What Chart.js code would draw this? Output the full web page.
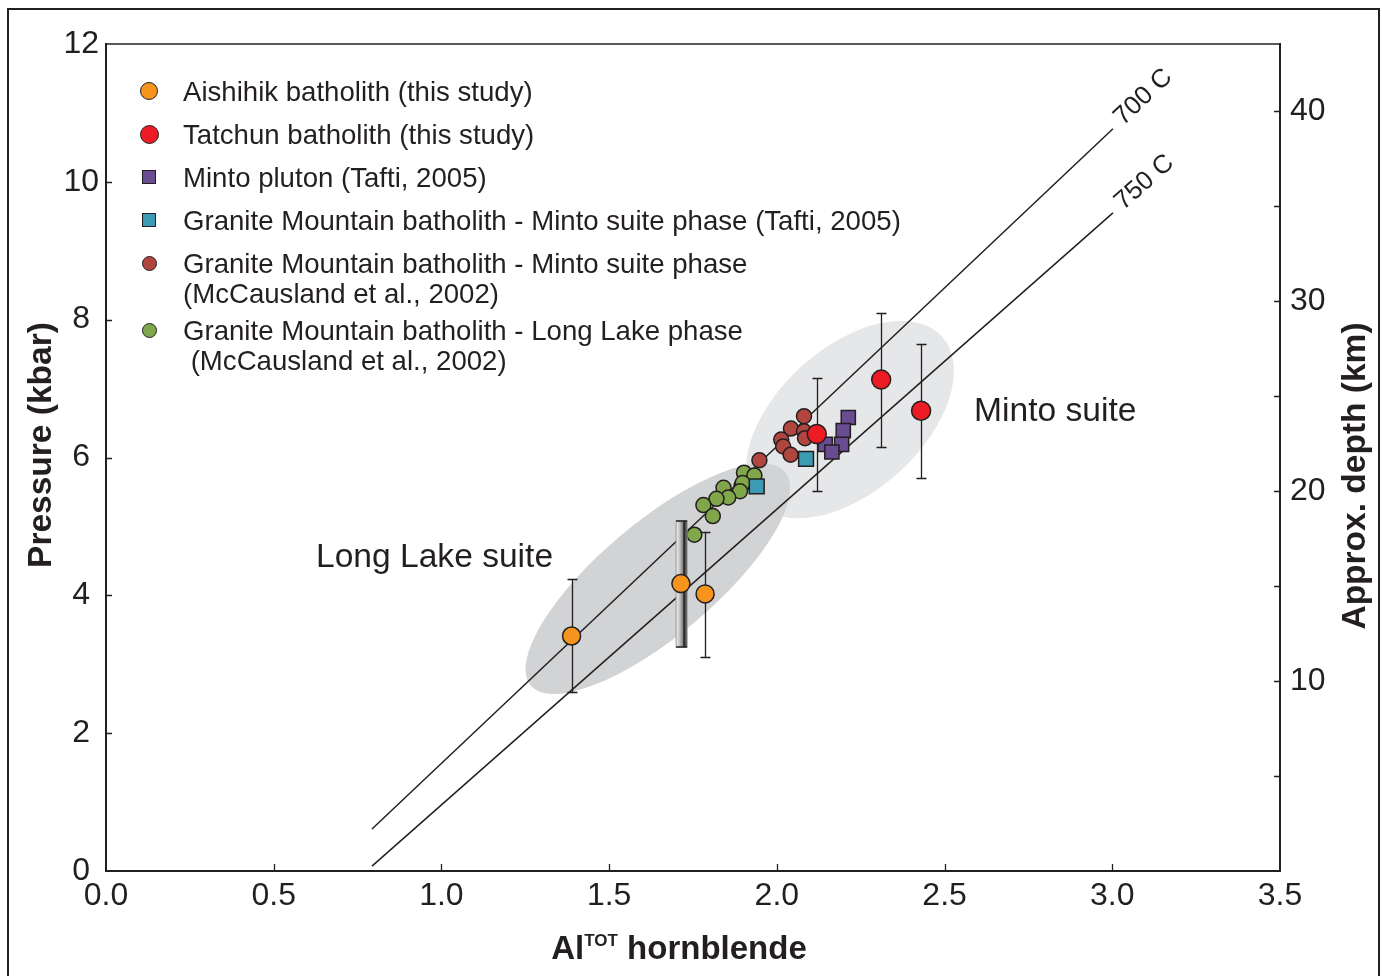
<!DOCTYPE html>
<html>
<head>
<meta charset="utf-8">
<title>Al-in-hornblende barometry</title>
<script src="https://cdn.jsdelivr.net/npm/chart.js@4.4.1/dist/chart.umd.min.js"></script>
<style>
  html, body { margin: 0; padding: 0; background: #fff; }
  #wrap { position: relative; width: 1382px; height: 976px; overflow: hidden;
          font-family: 'Liberation Sans', Arial, sans-serif; color: #231f20; }
  #frame { position: absolute; left: 7px; top: 8px; width: 1373px; height: 1000px;
           border: 2.5px solid #231f20; box-sizing: border-box; }
  canvas { position: absolute; left: 0; top: 0; }
  .row { position: absolute; left: 183px; font-size: 27.6px; line-height: 30px; white-space: pre; }
  .mk { position: absolute; box-sizing: border-box; border: 1.5px solid #231f20; }
  .atitle { position: absolute; width: 400px; height: 38px; text-align: center;
            font-weight: bold; font-size: 33.5px; line-height: 38px; white-space: nowrap; }
  #xtitle { left: 479px; top: 929px; font-size: 33px; }
  #xtitle sup { font-size: 17px; vertical-align: 13px; line-height: 0; }
  #ytitle { left: -160px; top: 426px; transform: rotate(-90deg); }
  #ytitle2 { left: 1154px; top: 457px; transform: rotate(-90deg); }
</style>
</head>
<body>
<div id="wrap">
  <div id="frame"></div>
  <canvas id="chart" width="1382" height="976"></canvas>
  <div id="legend"></div>
  <div id="xtitle" class="atitle">Al<sup>TOT</sup> hornblende</div>
  <div id="ytitle" class="atitle">Pressure (kbar)</div>
  <div id="ytitle2" class="atitle">Approx. depth (km)</div>
</div>
<script>
// --- data ---
const xTicks = [0, 0.5, 1.0, 1.5, 2.0, 2.5, 3.0, 3.5];
const pressureTicks = [0, 2, 4, 6, 8, 10, 12];
const depthLabels = [10, 20, 30, 40];

// Aishihik batholith (this study)
const aishihikX = [1.388, 1.714, 1.786];
const aishihikY = [3.41, 4.17, 4.02];
const aishihikLo = [2.60, null, 3.10];
const aishihikHi = [4.24, null, 4.92];
// range band drawn next to the second Aishihik point
const aishihikBandX = [1.716];
const aishihikBandLo = [3.25];
const aishihikBandHi = [5.08];

// Tatchun batholith (this study)
const tatchunX = [2.119, 2.311, 2.430];
const tatchunY = [6.34, 7.13, 6.68];
const tatchunLo = [5.51, 6.15, 5.70];
const tatchunHi = [7.16, 8.10, 7.65];

// Minto pluton (Tafti, 2005)
const mintoPlutonX = [2.213, 2.198, 2.193, 2.144, 2.164];
const mintoPlutonY = [6.58, 6.39, 6.19, 6.19, 6.08];

// Granite Mountain - Minto suite phase (Tafti, 2005)
const gmTaftiX = [2.087, 1.940];
const gmTaftiY = [5.98, 5.58];

// Granite Mountain - Minto suite phase (McCausland et al., 2002)
const gmMintoX = [2.081, 2.042, 2.081, 2.084, 2.013, 2.019, 2.041, 1.948, 1.895];
const gmMintoY = [6.60, 6.42, 6.38, 6.28, 6.26, 6.16, 6.04, 5.96, 5.59];

// Granite Mountain - Long Lake phase (McCausland et al., 2002)
const gmLongLakeX = [1.902, 1.933, 1.898, 1.890, 1.841, 1.855, 1.820, 1.781, 1.809, 1.754];
const gmLongLakeY = [5.78, 5.74, 5.63, 5.51, 5.56, 5.42, 5.40, 5.31, 5.15, 4.88];

// isotherms
const isoX = [0.793, 3.002];
const iso700Y = [0.61, 10.77];
const iso750Y = [0.07, 9.55];

const depthMax = 43.53; // km at 12 kbar

const INK = '#231f20';
const FONT = "'Liberation Sans', Arial, sans-serif";

const pts = (xs, ys) => xs.map((x, i) => ({ x: x, y: ys[i] }));

const datasets = [
  {
    label: 'Tatchun batholith (this study)',
    data: pts(tatchunX, tatchunY), errLo: tatchunLo, errHi: tatchunHi,
    pointStyle: 'circle', pointRadius: 9.5, backgroundColor: '#ed1c24', borderColor: INK, borderWidth: 1.5, order: 1
  },
  {
    label: 'Aishihik batholith (this study)',
    data: pts(aishihikX, aishihikY), errLo: aishihikLo, errHi: aishihikHi,
    band: { x: aishihikBandX, lo: aishihikBandLo, hi: aishihikBandHi },
    pointStyle: 'circle', pointRadius: 9, backgroundColor: '#f7941d', borderColor: INK, borderWidth: 1.5, order: 2
  },
  {
    label: 'Granite Mountain batholith - Minto suite phase (Tafti, 2005)',
    data: pts(gmTaftiX, gmTaftiY),
    pointStyle: 'rect', pointRadius: 10.5, backgroundColor: '#3a9bb2', borderColor: INK, borderWidth: 1.5, order: 3
  },
  {
    label: 'Minto pluton (Tafti, 2005)',
    data: pts(mintoPlutonX, mintoPlutonY),
    pointStyle: 'rect', pointRadius: 10, backgroundColor: '#6a4c93', borderColor: INK, borderWidth: 1.5, order: 4
  },
  {
    label: 'Granite Mountain batholith - Long Lake phase\n (McCausland et al., 2002)',
    data: pts(gmLongLakeX, gmLongLakeY),
    pointStyle: 'circle', pointRadius: 7.5, backgroundColor: '#80a84a', borderColor: INK, borderWidth: 1.5, order: 5
  },
  {
    label: 'Granite Mountain batholith - Minto suite phase\n(McCausland et al., 2002)',
    data: pts(gmMintoX, gmMintoY),
    pointStyle: 'circle', pointRadius: 7.5, backgroundColor: '#b1453f', borderColor: INK, borderWidth: 1.5, order: 6
  },
  {
    label: '700 C', endLabel: '700 C', type: 'line',
    data: pts(isoX, iso700Y), borderColor: INK, borderWidth: 1.5, pointRadius: 0, fill: false, order: 10
  },
  {
    label: '750 C', endLabel: '750 C', type: 'line',
    data: pts(isoX, iso750Y), borderColor: INK, borderWidth: 1.5, pointRadius: 0, fill: false, order: 11
  }
];

// grey fields behind the data (centre in data units, radii in px)
const fieldPlugin = {
  id: 'fields',
  beforeDatasetsDraw(chart, args, opts) {
    const { ctx, scales: { x, y } } = chart;
    ctx.save();
    opts.items.forEach(f => {
      ctx.beginPath();
      ctx.ellipse(x.getPixelForValue(f.cx), y.getPixelForValue(f.cy), f.rx, f.ry,
        -f.angle * Math.PI / 180, 0, 2 * Math.PI);
      ctx.fillStyle = f.color;
      ctx.fill();
    });
    ctx.restore();
  }
};

// error bars + range band, drawn just under each dataset's points
const errorBarPlugin = {
  id: 'errorBars',
  beforeDatasetDraw(chart, args) {
    const ds = chart.data.datasets[args.index];
    if (!ds.errLo && !ds.band) return;
    const { ctx, scales: { x, y } } = chart;
    ctx.save();
    if (ds.band) {
      ds.band.x.forEach((bx, i) => {
        const cx = x.getPixelForValue(bx);
        const top = y.getPixelForValue(ds.band.hi[i]);
        const bot = y.getPixelForValue(ds.band.lo[i]);
        const l = cx - 5.5, w = 11;
        const g = ctx.createLinearGradient(l, 0, l + w, 0);
        g.addColorStop(0, '#f2f2f2');
        g.addColorStop(0.3, '#c8c8c8');
        g.addColorStop(0.65, '#7a7a7a');
        g.addColorStop(1, '#3a3a3a');
        ctx.fillStyle = g;
        ctx.fillRect(l, top, w, bot - top);
        ctx.strokeStyle = '#9a9a9a';
        ctx.lineWidth = 1;
        ctx.strokeRect(l, top, w, bot - top);
        ctx.strokeStyle = INK;
        ctx.lineWidth = 1.5;
        ctx.beginPath();
        ctx.moveTo(l, top); ctx.lineTo(l + w, top);
        ctx.moveTo(l, bot); ctx.lineTo(l + w, bot);
        ctx.moveTo(l + w - 3, top); ctx.lineTo(l + w - 3, bot);
        ctx.stroke();
      });
    }
    if (ds.errLo) {
      ctx.strokeStyle = INK;
      ctx.lineWidth = 1.3;
      ctx.beginPath();
      ds.data.forEach((p, i) => {
        if (ds.errLo[i] == null) return;
        const px = Math.round(x.getPixelForValue(p.x)) + 0.5;
        const y1 = Math.round(y.getPixelForValue(ds.errLo[i])) + 0.5;
        const y2 = Math.round(y.getPixelForValue(ds.errHi[i])) + 0.5;
        ctx.moveTo(px, y1); ctx.lineTo(px, y2);
        ctx.moveTo(px - 5, y1); ctx.lineTo(px + 5, y1);
        ctx.moveTo(px - 5, y2); ctx.lineTo(px + 5, y2);
      });
      ctx.stroke();
    }
    ctx.restore();
  }
};

// isotherm end labels and suite names
const labelPlugin = {
  id: 'notes',
  afterDatasetsDraw(chart, args, opts) {
    const { ctx, scales: { x, y } } = chart;
    ctx.save();
    ctx.fillStyle = INK;
    chart.data.datasets.forEach((ds, i) => {
      if (!ds.endLabel) return;
      const el = chart.getDatasetMeta(i).data;
      const a = el[el.length - 2], b = el[el.length - 1];
      const ang = Math.atan2(b.y - a.y, b.x - a.x);
      ctx.save();
      ctx.translate(b.x + 9 * Math.cos(ang), b.y + 9 * Math.sin(ang));
      ctx.rotate(ang);
      ctx.font = '26px ' + FONT;
      ctx.textAlign = 'left';
      ctx.textBaseline = 'middle';
      ctx.fillText(ds.endLabel, 0, -2);
      ctx.restore();
    });
    ctx.font = '33.6px ' + FONT;
    ctx.textAlign = 'left';
    ctx.textBaseline = 'middle';
    opts.items.forEach(n => ctx.fillText(n.text, x.getPixelForValue(n.x), y.getPixelForValue(n.y)));
    ctx.restore();
  }
};

// inward tick marks and top frame line
const tickPlugin = {
  id: 'inTicks',
  afterDraw(chart) {
    const { ctx, chartArea: a, scales } = chart;
    ctx.save();
    ctx.strokeStyle = INK;
    ctx.lineWidth = 1.3;
    ctx.beginPath();
    scales.x.ticks.forEach(t => {
      if (t.value <= scales.x.min || t.value >= scales.x.max) return;
      const p = Math.round(scales.x.getPixelForValue(t.value)) + 0.5;
      ctx.moveTo(p, a.bottom); ctx.lineTo(p, a.bottom - 7);
    });
    scales.y.ticks.forEach(t => {
      if (t.value <= scales.y.min || t.value >= scales.y.max) return;
      const p = Math.round(scales.y.getPixelForValue(t.value)) + 0.5;
      ctx.moveTo(a.left, p); ctx.lineTo(a.left + 6, p);
    });
    scales.y2.ticks.forEach(t => {
      if (t.value <= scales.y2.min || t.value >= scales.y2.max) return;
      const p = Math.round(scales.y2.getPixelForValue(t.value)) + 0.5;
      ctx.moveTo(a.right, p); ctx.lineTo(a.right - 6, p);
    });
    ctx.stroke();
    ctx.lineWidth = 1.6;
    ctx.beginPath();
    ctx.moveTo(a.left, a.top); ctx.lineTo(a.right, a.top);
    ctx.stroke();
    ctx.restore();
  }
};

const tickFont = { family: FONT, size: 32 };
const noGrid = { drawOnChartArea: false, drawTicks: false };
const axisBorder = { color: INK, width: 2 };

new Chart(document.getElementById('chart'), {
  type: 'scatter',
  data: { datasets: datasets },
  options: {
    responsive: false,
    animation: false,
    events: [],
    layout: { padding: { top: 44, left: 0, right: 0, bottom: 0 } },
    plugins: {
      legend: { display: false },
      tooltip: { enabled: false },
      fields: {
        items: [
          { cx: 2.218, cy: 6.55, rx: 124, ry: 72, angle: 42, color: '#e6e7e8' },
          { cx: 1.645, cy: 4.24, rx: 166, ry: 57, angle: 40, color: '#d1d3d4' }
        ]
      },
      notes: {
        items: [
          { text: 'Long Lake suite', x: 0.626, y: 4.55 },
          { text: 'Minto suite', x: 2.588, y: 6.67 }
        ]
      }
    },
    scales: {
      x: {
        type: 'linear', position: 'bottom', min: 0, max: 3.5,
        afterBuildTicks: s => { s.ticks = xTicks.map(v => ({ value: v })); },
        ticks: { callback: v => v.toFixed(1), font: tickFont, color: INK, padding: 6, maxRotation: 0, autoSkip: false },
        grid: noGrid, border: axisBorder,
        afterFit: s => { s.height = 105; }
      },
      y: {
        type: 'linear', position: 'left', min: 0, max: 12,
        afterBuildTicks: s => { s.ticks = pressureTicks.map(v => ({ value: v })); },
        ticks: { font: tickFont, color: INK, crossAlign: 'center', padding: 7, autoSkip: false },
        grid: noGrid, border: axisBorder,
        afterFit: s => { s.width = 106; }
      },
      y2: {
        type: 'linear', position: 'right', min: 0, max: depthMax,
        ticks: { stepSize: 5, includeBounds: false, font: tickFont, color: INK, padding: 10, autoSkip: false,
                 callback: v => depthLabels.includes(v) ? String(v) : '' },
        grid: noGrid, border: axisBorder,
        afterFit: s => { s.width = 102; }
      }
    }
  },
  plugins: [fieldPlugin, errorBarPlugin, labelPlugin, tickPlugin]
});

// legend, built from the dataset labels
const legendOrder = [1, 0, 3, 2, 5, 4];
const legendRows = [92, 135, 178, 221, 264, 331];
const legendBox = document.getElementById('legend');
legendOrder.forEach((di, k) => {
  const ds = datasets[di];
  const cy = legendRows[k];
  const mk = document.createElement('div');
  mk.className = 'mk';
  const size = ds.pointStyle === 'rect' ? ds.pointRadius * Math.SQRT2 : ds.pointRadius * 2;
  mk.style.width = size + 'px';
  mk.style.height = size + 'px';
  mk.style.left = (149 - size / 2) + 'px';
  mk.style.top = (cy - 1 - size / 2) + 'px';
  mk.style.background = ds.backgroundColor;
  if (ds.pointStyle === 'circle') mk.style.borderRadius = '50%';
  legendBox.appendChild(mk);
  ds.label.split('\n').forEach((line, j) => {
    const row = document.createElement('div');
    row.className = 'row';
    row.style.top = (cy - 15 + j * 30) + 'px';
    row.textContent = line;
    legendBox.appendChild(row);
  });
});
</script>
</body>
</html>
